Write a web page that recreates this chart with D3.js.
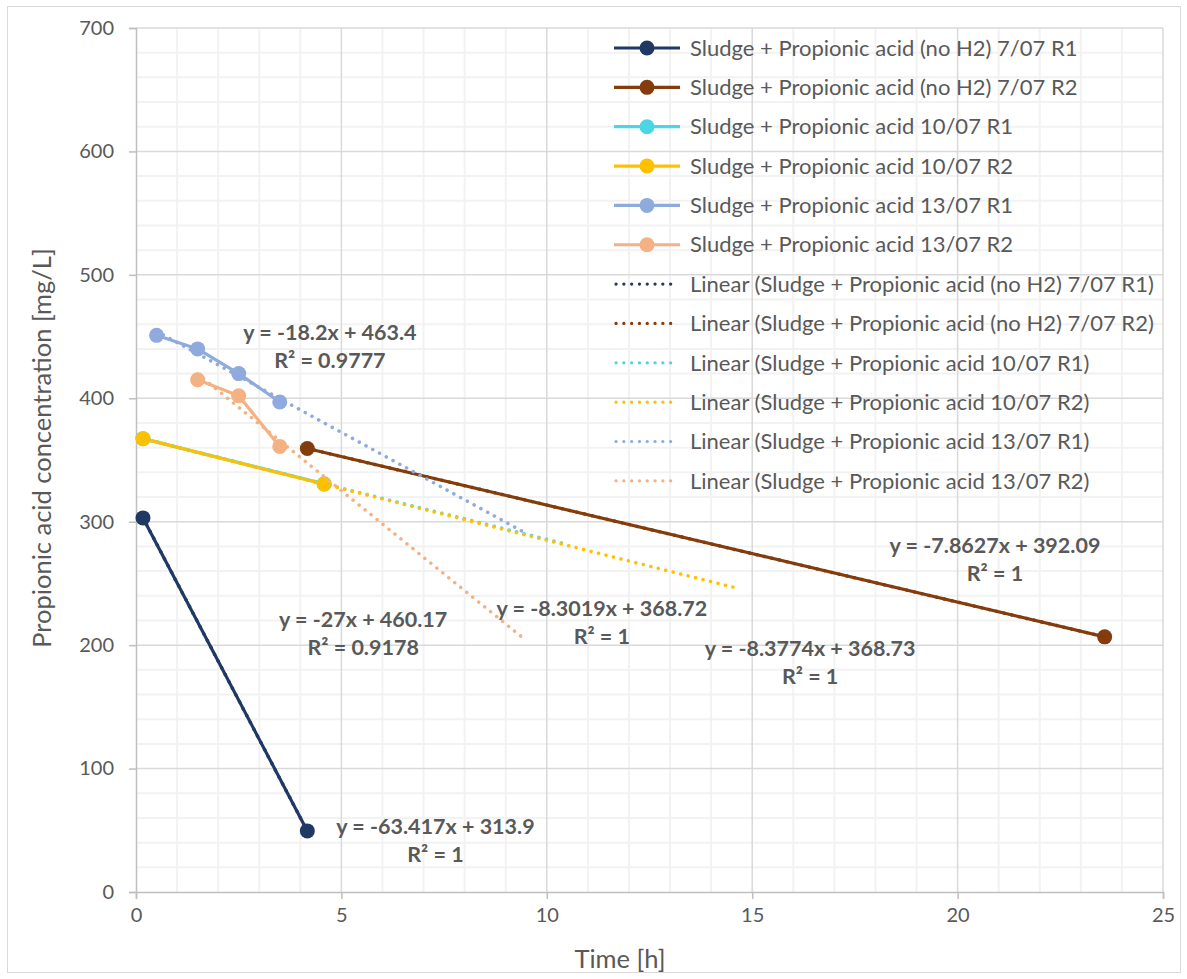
<!DOCTYPE html>
<html>
<head>
<meta charset="utf-8">
<script src="https://cdn.jsdelivr.net/npm/d3@7"></script>
<style>
  body { margin: 0; background: #fff; }
  svg text { font-family: Lato, "Open Sans", sans-serif; fill: #595959; }
</style>
</head>
<body>
<div id="chart"></div>
<script>
// series names, colours (legend order)
const seriesNames = [
  "Sludge + Propionic acid (no H2) 7/07 R1",
  "Sludge + Propionic acid (no H2) 7/07 R2",
  "Sludge + Propionic acid 10/07 R1",
  "Sludge + Propionic acid 10/07 R2",
  "Sludge + Propionic acid 13/07 R1",
  "Sludge + Propionic acid 13/07 R2"
];
const seriesColors = ["#203864", "#843c0c", "#4ad6e4", "#ffc000", "#8faadc", "#f4b183"];

// measured points, time [h] and concentration [mg/L]
const time0707R1 = [0.17, 4.17];
const conc0707R1 = [303.1, 49.5];
const time0707R2 = [4.17, 23.58];
const conc0707R2 = [359.3, 206.7];
const time1007R1 = [0.17, 4.58];
const conc1007R1 = [367.3, 330.7];
const time1007R2 = [0.17, 4.58];
const conc1007R2 = [367.3, 330.4];
const time1307R1 = [0.5, 1.5, 2.5, 3.5];
const conc1307R1 = [451, 440, 420, 397];
const time1307R2 = [1.5, 2.5, 3.5];
const conc1307R2 = [415, 402, 361];

// trendlines: slope, intercept, x extent, label text
const trendSlope = [-63.417, -7.8627, -8.3019, -8.3774, -18.2, -27];
const trendIntercept = [313.9, 392.09, 368.72, 368.73, 463.4, 460.17];
const trendStart = [0.17, 4.17, 0.17, 0.17, 0.5, 1.5];
const trendEnd = [4.17, 23.58, 10.4, 14.55, 9.4, 9.4];
const trendEq = ["y = -63.417x + 313.9", "y = -7.8627x + 392.09", "y = -8.3019x + 368.72",
                 "y = -8.3774x + 368.73", "y = -18.2x + 463.4", "y = -27x + 460.17"];
const trendR2 = ["R² = 1", "R² = 1", "R² = 1", "R² = 1", "R² = 0.9777", "R² = 0.9178"];
// label anchor in data units (centre of equation line)
const labelX = [7.29, 20.91, 11.34, 16.41, 4.72, 5.53];
const labelY = [53, 281, 230, 197.7, 453, 220.4];

const xTicks = [0, 5, 10, 15, 20, 25];
const yTicks = [0, 100, 200, 300, 400, 500, 600, 700];

const pointSets = [
  [time0707R1, conc0707R1], [time0707R2, conc0707R2], [time1007R1, conc1007R1],
  [time1007R2, conc1007R2], [time1307R1, conc1307R1], [time1307R2, conc1307R2]
];

const W = 1187, H = 979;
const margin = {top: 28, right: 24, bottom: 87, left: 136};
const width = W - margin.left - margin.right;
const height = H - margin.top - margin.bottom;

const svg = d3.select("#chart").append("svg")
  .attr("width", W).attr("height", H);

svg.append("rect")
  .attr("x", 7.5).attr("y", 6.5).attr("width", W - 14).attr("height", H - 13)
  .attr("fill", "#fff").attr("stroke", "#d9d9d9");

const x = d3.scaleLinear().domain([0, 25]).range([0, width]);
const y = d3.scaleLinear().domain([0, 700]).range([height, 0]);

const g = svg.append("g")
  .attr("transform", `translate(${margin.left},${margin.top})`);

// minor grid
g.append("g").selectAll("line")
  .data(d3.range(1, 25).filter(v => v % 5 !== 0))
  .join("line")
  .attr("x1", d => x(d)).attr("x2", d => x(d))
  .attr("y1", 0).attr("y2", height)
  .attr("stroke", "#f2f2f2").attr("stroke-width", 2);
g.append("g").selectAll("line")
  .data(d3.range(20, 700, 20).filter(v => v % 100 !== 0))
  .join("line")
  .attr("x1", 0).attr("x2", width)
  .attr("y1", d => y(d)).attr("y2", d => y(d))
  .attr("stroke", "#f2f2f2").attr("stroke-width", 2);

// major grid
g.append("g").selectAll("line")
  .data(xTicks.slice(1))
  .join("line")
  .attr("x1", d => x(d)).attr("x2", d => x(d))
  .attr("y1", 0).attr("y2", height)
  .attr("stroke", "#d9d9d9").attr("stroke-width", 1.5);
g.append("g").selectAll("line")
  .data(yTicks.slice(1))
  .join("line")
  .attr("x1", 0).attr("x2", width)
  .attr("y1", d => y(d)).attr("y2", d => y(d))
  .attr("stroke", "#d9d9d9").attr("stroke-width", 1.5);

// axes
const xAxis = d3.axisBottom(x).tickValues(xTicks).tickSize(7).tickPadding(9);
const yAxis = d3.axisLeft(y).tickValues(yTicks).tickSize(7).tickPadding(15);

const xAxisG = g.append("g").attr("transform", `translate(0,${height})`).call(xAxis);
const yAxisG = g.append("g").call(yAxis);
[xAxisG, yAxisG].forEach(a => {
  a.select(".domain").attr("stroke", "#bfbfbf").attr("stroke-width", 1.5);
  a.selectAll(".tick line").attr("stroke", "#bfbfbf").attr("stroke-width", 1.5);
  a.selectAll(".tick text").attr("fill", "#595959").style("font-size", "20px")
    .style("font-family", "Lato, sans-serif");
});

// axis titles
svg.append("text")
  .attr("x", 620).attr("y", 968)
  .attr("text-anchor", "middle").style("font-size", "25.5px")
  .text("Time [h]");
svg.append("text")
  .attr("transform", "translate(51,448) rotate(-90)")
  .attr("text-anchor", "middle").style("font-size", "25.5px")
  .text("Propionic acid concentration [mg/L]");

const line = d3.line().x(d => x(d[0])).y(d => y(d[1]));

// series lines and markers
pointSets.forEach((ps, i) => {
  const pts = ps[0].map((t, k) => [t, ps[1][k]]);
  g.append("path")
    .datum(pts)
    .attr("d", line)
    .attr("fill", "none")
    .attr("stroke", seriesColors[i])
    .attr("stroke-width", 3.2)
    .attr("stroke-linejoin", "round");
  g.append("g").selectAll("circle")
    .data(pts)
    .join("circle")
    .attr("cx", d => x(d[0])).attr("cy", d => y(d[1]))
    .attr("r", 7.5)
    .attr("fill", seriesColors[i]);
});

// linear trendlines
pointSets.forEach((ps, i) => {
  const tr = [trendStart[i], trendEnd[i]].map(t => [t, trendSlope[i] * t + trendIntercept[i]]);
  g.append("path")
    .datum(tr)
    .attr("d", line)
    .attr("fill", "none")
    .attr("stroke", seriesColors[i])
    .attr("stroke-width", 3.5)
    .attr("stroke-linecap", "round")
    .attr("stroke-dasharray", "0.1 7.6");
});

// trendline labels
const labG = g.append("g");
trendEq.forEach((eq, i) => {
  const lx = x(labelX[i]), ly = y(labelY[i]);
  labG.append("text")
    .attr("x", lx).attr("y", ly)
    .attr("text-anchor", "middle").attr("dy", "0.35em")
    .style("font-size", "21.5px").style("font-weight", "bold")
    .text(eq);
  labG.append("text")
    .attr("x", lx).attr("y", ly + 28)
    .attr("text-anchor", "middle").attr("dy", "0.35em")
    .style("font-size", "21.5px").style("font-weight", "bold")
    .text(trendR2[i]);
});

// legend
const legend = svg.append("g").attr("transform", "translate(614,48)");
const legendRows = seriesNames.map((n, i) => ({name: n, color: seriesColors[i], trend: false}))
  .concat(seriesNames.map((n, i) => ({name: "Linear (" + n + ")", color: seriesColors[i], trend: true})));
const rowH = 39.35;
legendRows.forEach((r, i) => {
  const row = legend.append("g").attr("transform", `translate(0,${i * rowH})`);
  if (r.trend) {
    row.append("line").attr("x1", 2).attr("x2", 64)
      .attr("stroke", r.color).attr("stroke-width", 3.2)
      .attr("stroke-linecap", "round").attr("stroke-dasharray", "0.1 7.7");
  } else {
    row.append("line").attr("x1", 0).attr("x2", 66)
      .attr("stroke", r.color).attr("stroke-width", 3.2);
    row.append("circle").attr("cx", 33).attr("r", 7.5).attr("fill", r.color);
  }
  row.append("text").attr("x", 76).attr("dy", "0.35em")
    .style("font-size", "22px").text(r.name);
});
</script>
</body>
</html>
